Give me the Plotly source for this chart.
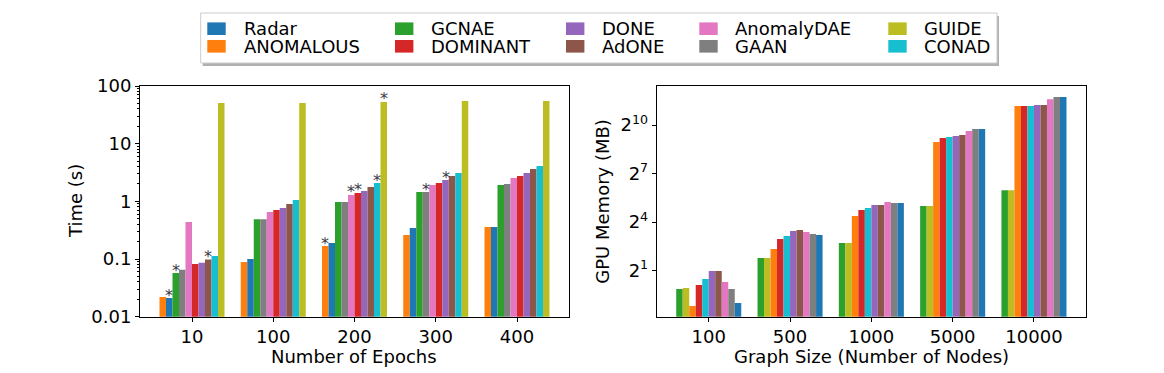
import math
import plotly.graph_objects as go

W, H = 1164, 373

# ---------------- data ----------------
epochs = ["10", "100", "200", "300", "400"]
graph_sizes = ["100", "500", "1000", "5000", "10000"]

models = ["Radar", "ANOMALOUS", "GCNAE", "DOMINANT", "DONE",
          "AdONE", "AnomalyDAE", "GAAN", "GUIDE", "CONAD"]
colors = ["#1f77b4", "#ff7f0e", "#2ca02c", "#d62728", "#9467bd",
          "#8c564b", "#e377c2", "#7f7f7f", "#bcbd22", "#17becf"]

# Time (s) per number of epochs
time_radar = [0.021, 0.100, 0.19, 0.345, 0.36]
time_anomalous = [0.022, 0.089, 0.168, 0.261, 0.36]
time_gcnae = [0.057, 0.49, 0.975, 1.45, 1.92]
time_dominant = [0.082, 0.71, 1.40, 2.08, 2.75]
time_done = [0.086, 0.77, 1.51, 2.34, 3.1]
time_adone = [0.098, 0.90, 1.77, 2.75, 3.64]
time_anomalydae = [0.44, 0.655, 1.29, 1.92, 2.54]
time_gaan = [0.065, 0.49, 0.975, 1.45, 2.0]
time_guide = [50.5, 50.5, 52.8, 55.0, 55.0]
time_conad = [0.113, 1.055, 2.08, 3.1, 4.1]

# GPU memory (MB) per graph size
mem_radar = [0.50, 9.2, 36.2, 862, 3400]
mem_anomalous = [0.44, 5.06, 20.8, 494, 2300]
mem_gcnae = [0.91, 3.44, 6.55, 31.9, 63]
mem_dominant = [1.08, 7.78, 26.9, 588, 2300]
mem_done = [1.97, 10.9, 33.4, 639, 2400]
mem_adone = [1.97, 11.4, 33.4, 667, 2400]
mem_anomalydae = [1.23, 10.5, 37.8, 792, 3100]
mem_gaan = [0.91, 9.6, 36.2, 862, 3400]
mem_guide = [0.95, 3.44, 6.55, 31.9, 63]
mem_conad = [1.40, 8.8, 29.3, 613, 2300]

# bar order inside each group
time_order = ["ANOMALOUS", "Radar", "GCNAE", "GAAN", "AnomalyDAE",
              "DOMINANT", "DONE", "AdONE", "CONAD", "GUIDE"]
mem_order = ["GCNAE", "GUIDE", "ANOMALOUS", "DOMINANT", "CONAD",
             "DONE", "AdONE", "AnomalyDAE", "GAAN", "Radar"]

# bars marked with an asterisk in the time chart
star_epochs = ["10", "10", "10", "200", "200", "200", "200", "200", "300", "300"]
star_models = ["Radar", "GCNAE", "AdONE", "ANOMALOUS", "AnomalyDAE",
               "DOMINANT", "CONAD", "GUIDE", "GAAN", "DONE"]

time_tick_vals = [0.01, 0.1, 1, 10, 100]
time_tick_text = ["0.01", "0.1", "1", "10", "100"]
mem_tick_vals = [2, 16, 128, 1024]
mem_tick_text = ["2<sup>1</sup>", "2<sup>4</sup>", "2<sup>7</sup>", "2<sup>10</sup>"]

time_values = dict(zip(models, [time_radar, time_anomalous, time_gcnae, time_dominant,
                                time_done, time_adone, time_anomalydae, time_gaan,
                                time_guide, time_conad]))
mem_values = dict(zip(models, [mem_radar, mem_anomalous, mem_gcnae, mem_dominant,
                               mem_done, mem_adone, mem_anomalydae, mem_gaan,
                               mem_guide, mem_conad]))
color_of = dict(zip(models, colors))

FONT = "DejaVu Sans"
FS = 18


def px(x):
    return x / W


def py(y):
    return 1 - y / H


fig = go.Figure()

for m in time_order:
    fig.add_trace(go.Bar(x=epochs, y=time_values[m], name=m, marker=dict(color=color_of[m], line=dict(width=0)),
                         xaxis="x", yaxis="y", showlegend=False))
for m in mem_order:
    fig.add_trace(go.Bar(x=graph_sizes, y=mem_values[m], name=m, marker=dict(color=color_of[m], line=dict(width=0)),
                         xaxis="x2", yaxis="y2", showlegend=False))

annotations = []
shapes = []

# asterisks
n_slots = len(time_order)
slot_w = 0.8 / n_slots
for e, m in zip(star_epochs, star_models):
    gi = epochs.index(e)
    si = time_order.index(m)
    xpos = gi + (si - (n_slots - 1) / 2) * slot_w
    val = time_values[m][gi]
    annotations.append(dict(x=xpos, y=math.log10(val), xref="x", yref="y", text="*",
                            showarrow=False, yanchor="middle", yshift=3,
                            font=dict(family=FONT, size=16, color="#3a3a4a")))

# axis titles
annotations += [
    dict(x=px(75), y=py(201), xref="paper", yref="paper", text="Time (s)", textangle=-90,
         showarrow=False, xanchor="center", yanchor="middle", font=dict(family=FONT, size=FS, color="black")),
    dict(x=px(601.7), y=py(201), xref="paper", yref="paper", text="GPU Memory (MB)", textangle=-90,
         showarrow=False, xanchor="center", yanchor="middle", font=dict(family=FONT, size=FS, color="black")),
    dict(x=px(354.5), y=py(356), xref="paper", yref="paper", text="Number of Epochs",
         showarrow=False, xanchor="center", yanchor="middle", font=dict(family=FONT, size=FS, color="black")),
    dict(x=px(871.4), y=py(356), xref="paper", yref="paper", text="Graph Size (Number of Nodes)",
         showarrow=False, xanchor="center", yanchor="middle", font=dict(family=FONT, size=FS, color="black")),
]

# manual legend (matplotlib-like, 5 columns x 2 rows)
box_l, box_r, box_t, box_b = 200.7, 997, 13, 63
shapes.append(dict(type="rect", xref="paper", yref="paper", x0=px(box_l + 2), x1=px(box_r + 2),
                   y0=py(box_b + 3), y1=py(box_t + 3), fillcolor="#b0b0b0", line=dict(width=0), layer="above"))
shapes.append(dict(type="rect", xref="paper", yref="paper", x0=px(box_l), x1=px(box_r),
                   y0=py(box_b), y1=py(box_t), fillcolor="white", line=dict(color="#cccccc", width=1), layer="above"))
patch_x = [207.3, 395, 566, 699.3, 888.3]
text_x = [241.7, 429, 600, 733.3, 921.7]
row_y = [28.7, 46.3]
for i, m in enumerate(models):
    col, row = i // 2, i % 2
    x0 = patch_x[col]
    yc = row_y[row]
    shapes.append(dict(type="rect", xref="paper", yref="paper", x0=px(x0), x1=px(x0 + 18.4),
                       y0=py(yc + 6.3), y1=py(yc - 6.3), fillcolor=color_of[m], line=dict(width=0), layer="above"))
    annotations.append(dict(x=px(text_x[col]), y=py(yc), xref="paper", yref="paper", text=m,
                            showarrow=False, xanchor="left", yanchor="middle",
                            font=dict(family=FONT, size=FS, color="black")))

axis_common = dict(showline=True, linecolor="black", linewidth=1, mirror=True, showgrid=False,
                   zeroline=False, ticks="outside", ticklen=4, tickwidth=1, tickcolor="black",
                   automargin=False,
                   tickfont=dict(family=FONT, size=FS, color="black"))

minor_time = [k * 10 ** p for p in range(-2, 2) for k in range(2, 10)]

fig.update_layout(
    template="none",
    width=W, height=H,
    margin=dict(l=0, r=0, t=0, b=0, pad=0),
    paper_bgcolor="white", plot_bgcolor="white",
    barmode="group", bargap=0.2, bargroupgap=0,
    font=dict(family=FONT, size=FS, color="black"),
    xaxis=dict(domain=[px(140), px(569)], anchor="y", type="category", categoryorder="array",
               categoryarray=epochs, range=[-0.64, 4.64], **axis_common),
    yaxis=dict(domain=[py(316.7), py(86)], anchor="x", type="log", range=[-2, 2],
               tickvals=time_tick_vals, ticktext=time_tick_text,
               minor=dict(tickvals=minor_time, ticks="outside", ticklen=2, tickcolor="black", showgrid=False),
               **axis_common),
    xaxis2=dict(domain=[px(656.7), px(1086)], anchor="y2", type="category", categoryorder="array",
                categoryarray=graph_sizes, range=[-0.64, 4.64], **axis_common),
    yaxis2=dict(domain=[py(316.7), py(86)], anchor="x2", type="log",
                range=[-1.84 * math.log10(2), 12.41 * math.log10(2)],
                tickvals=mem_tick_vals, ticktext=mem_tick_text, **axis_common),
    annotations=annotations,
    shapes=shapes,
    showlegend=False,
)

fig.write_html("out.html", config={"displayModeBar": False},
               post_script="document.body.style.margin='0';")
